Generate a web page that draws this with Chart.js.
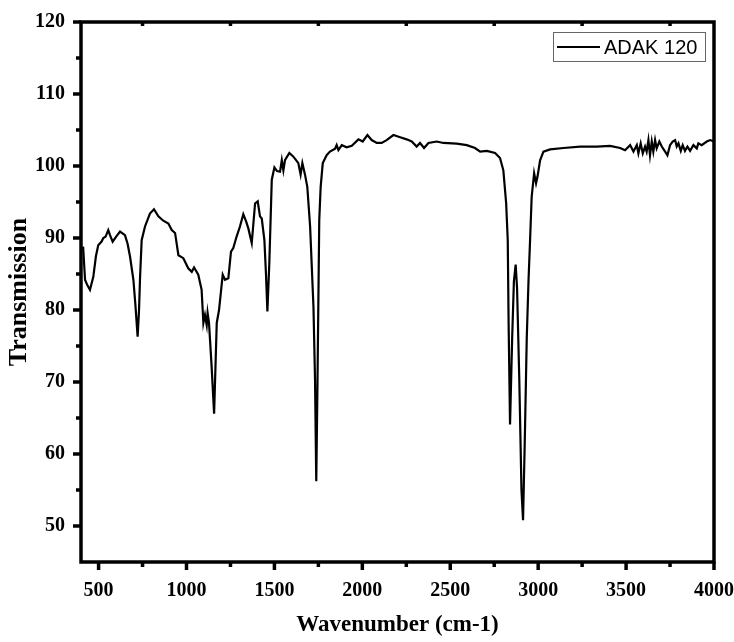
<!DOCTYPE html>
<html>
<head>
<meta charset="utf-8">
<title>ADAK 120</title>
<script src="https://cdn.jsdelivr.net/npm/chart.js@4/dist/chart.umd.min.js"></script>
<style>
  body { margin: 0; background: #fff; }
  canvas { display: block; }
</style>
</head>
<body>
<canvas id="myChart" width="734" height="642"></canvas>
<script>
const seriesLabel = "ADAK 120";

// wavenumber (cm-1) and transmission
const wavenumbers = [
  412, 423, 435, 451, 470, 485, 498, 517, 527, 540, 555, 565, 580, 600, 622, 650, 665, 679, 698, 710,
  722, 730, 736, 745, 764, 792, 815, 840, 868, 897, 916, 935, 954, 982, 1010, 1030, 1043, 1067, 1086, 1096,
  1105, 1115, 1120, 1128, 1143, 1157, 1172, 1185, 1206, 1219, 1238, 1253, 1266, 1285, 1304, 1323, 1339, 1352, 1371, 1376,
  1390, 1405, 1418, 1428, 1443, 1452, 1460, 1471, 1485, 1500, 1515, 1532, 1542, 1551, 1560, 1585, 1608, 1636, 1649, 1659,
  1674, 1687, 1703, 1722, 1731, 1738, 1745, 1755, 1763, 1775, 1797, 1816, 1845, 1854, 1864, 1883, 1911, 1940, 1978, 2002,
  2029, 2053, 2082, 2110, 2138, 2177, 2215, 2252, 2281, 2309, 2328, 2351, 2376, 2423, 2461, 2537, 2594, 2641, 2670, 2708,
  2755, 2783, 2802, 2818, 2827, 2832, 2840, 2852, 2862, 2872, 2880, 2893, 2905, 2914, 2924, 2935, 2945, 2954, 2963, 2977,
  2988, 2996, 3011, 3030, 3068, 3144, 3238, 3333, 3409, 3466, 3494, 3523, 3542, 3561, 3570, 3583, 3595, 3608, 3617, 3627,
  3636, 3646, 3655, 3665, 3674, 3689, 3703, 3722, 3735, 3750, 3765, 3779, 3788, 3798, 3811, 3822, 3835, 3849, 3864, 3883,
  3902, 3911, 3930, 3959, 3978, 4000
];
const transmission = [
  88.8, 84.2, 83.5, 82.8, 84.6, 87.5, 89.0, 89.5, 90.0, 90.2, 91.1, 90.4, 89.5, 90.2, 90.9, 90.4, 89.2, 87.4, 84.2, 80.5,
  76.3, 80.0, 84.6, 89.7, 91.6, 93.4, 94.0, 93.0, 92.4, 92.0, 91.1, 90.7, 87.6, 87.2, 85.8, 85.3, 85.9, 84.9, 82.8, 78.2,
  79.3, 77.9, 79.6, 78.2, 72.1, 65.6, 78.2, 80.0, 84.9, 84.2, 84.4, 88.1, 88.6, 90.2, 91.6, 93.3, 92.3, 91.3, 89.3, 90.7,
  94.8, 95.1, 93.0, 92.7, 89.7, 85.0, 79.8, 86.5, 98.1, 99.8, 99.3, 99.2, 100.8, 99.4, 100.8, 101.8, 101.3, 100.4, 98.8, 100.4,
  98.8, 97.1, 91.6, 80.5, 70.3, 56.2, 70.0, 92.5, 97.1, 100.4, 101.5, 102.0, 102.4, 102.9, 102.2, 102.9, 102.6, 102.8, 103.7, 103.4,
  104.3, 103.6, 103.2, 103.2, 103.6, 104.3, 104.0, 103.7, 103.4, 102.7, 103.2, 102.5, 103.2, 103.4, 103.2, 103.1, 102.9, 102.5, 102.0, 102.1,
  101.8, 101.1, 99.4, 94.8, 89.7, 78.0, 64.1, 76.0, 84.0, 86.3, 83.0, 70.0, 55.0, 50.8, 62.0, 76.0, 84.0, 89.7, 95.7, 99.0,
  97.6, 98.5, 100.8, 102.0, 102.3, 102.5, 102.7, 102.7, 102.8, 102.5, 102.2, 102.9, 102.0, 102.9, 101.75, 103.15, 101.75, 102.7, 102.0, 103.6,
  101.5, 103.4, 102.0, 103.6, 102.45, 103.4, 102.7, 102.0, 101.5, 102.9, 103.4, 103.6, 102.7, 103.15, 102.1, 102.9, 102.1, 102.7, 102.1, 102.9,
  102.45, 103.15, 102.9, 103.4, 103.6, 103.4
];

const xTicks = [500, 1000, 1500, 2000, 2500, 3000, 3500, 4000];
const xMinorTicks = [750, 1250, 1750, 2250, 2750, 3250, 3750];
const yTicks = [50, 60, 70, 80, 90, 100, 110, 120];
const yMinorTicks = [55, 65, 75, 85, 95, 105, 115];

const tickFont = { family: "'Liberation Serif', 'Times New Roman', serif", size: 20, weight: "bold" };
const titleFont = { family: "'Liberation Serif', 'Times New Roman', serif", size: 23, weight: "bold" };

// thick box round the plot, with outward ticks, plus the boxed legend
const framePlugin = {
  id: "frame",
  afterDatasetsDraw(chart) {
    const { ctx, chartArea: a, scales } = chart;
    const x = scales.x;
    const y = scales.y;
    const line = (x1, y1, x2, y2) => {
      ctx.beginPath();
      ctx.moveTo(x1, y1);
      ctx.lineTo(x2, y2);
      ctx.stroke();
    };
    ctx.save();
    ctx.strokeStyle = "#000";
    ctx.lineWidth = 3.5;
    ctx.strokeRect(a.left, a.top, a.right - a.left, a.bottom - a.top);
    xTicks.forEach((v) => {
      const px = x.getPixelForValue(v);
      line(px, a.bottom, px, a.bottom + 8);
    });
    xMinorTicks.forEach((v) => {
      const px = x.getPixelForValue(v);
      line(px, a.bottom, px, a.bottom + 5);
      line(px, a.top, px, a.top + 4);
    });
    yTicks.forEach((v) => {
      const py = y.getPixelForValue(v);
      line(a.left - 8, py, a.left, py);
    });
    yMinorTicks.forEach((v) => {
      const py = y.getPixelForValue(v);
      line(a.left - 5, py, a.left, py);
    });

    // legend
    const ds = chart.data.datasets[0];
    ctx.lineWidth = 1;
    ctx.strokeStyle = "#666";
    ctx.strokeRect(553.5, 32.5, 152, 29);
    ctx.strokeStyle = ds.borderColor;
    ctx.lineWidth = 2;
    line(557, 47, 600, 47);
    ctx.fillStyle = "#000";
    ctx.font = "20px 'Liberation Sans', Arial, sans-serif";
    ctx.textBaseline = "middle";
    ctx.textAlign = "left";
    ctx.fillText(ds.label, 604, 48);
    ctx.restore();
  },
};

const chartData = {
  datasets: [
    {
      label: seriesLabel,
      data: wavenumbers.map((w, i) => ({ x: w, y: transmission[i] })),
      borderColor: "#000",
      borderWidth: 2.2,
      pointRadius: 0,
      tension: 0,
      fill: false,
    },
  ],
};

const config = {
  type: "line",
  data: chartData,
  options: {
    responsive: false,
    animation: false,
    layout: { padding: { top: 22, right: 20, left: 0, bottom: 0 } },
    plugins: {
      legend: { display: false },
      tooltip: { enabled: false },
    },
    scales: {
      x: {
        type: "linear",
        min: 400,
        max: 4000,
        afterBuildTicks: (axis) => {
          axis.ticks = xTicks.map((v) => ({ value: v }));
        },
        afterFit: (axis) => {
          axis.height = 80;
          axis.paddingLeft = 0;
          axis.paddingRight = 0;
        },
        grid: { display: false, drawTicks: false },
        border: { display: false },
        ticks: {
          autoSkip: false,
          maxRotation: 0,
          padding: 17,
          color: "#000",
          font: tickFont,
          callback: (value) => String(value),
        },
        title: {
          display: true,
          text: "Wavenumber (cm-1)",
          color: "#000",
          font: titleFont,
          padding: { top: 0, bottom: 3 },
        },
      },
      y: {
        type: "linear",
        min: 45,
        max: 120,
        afterBuildTicks: (axis) => {
          axis.ticks = yTicks.map((v) => ({ value: v }));
        },
        afterFit: (axis) => {
          axis.width = 81;
          axis.paddingTop = 0;
          axis.paddingBottom = 0;
        },
        grid: { display: false, drawTicks: false },
        border: { display: false },
        ticks: {
          autoSkip: false,
          padding: 16,
          color: "#000",
          font: tickFont,
          callback: (value) => String(value),
        },
        title: {
          display: true,
          text: "Transmission",
          color: "#000",
          font: { ...titleFont, size: 26 },
          padding: { top: 4, bottom: 0 },
        },
      },
    },
  },
  plugins: [framePlugin],
};

const ctx = document.getElementById("myChart").getContext("2d");
const myChart = new Chart(ctx, config);
</script>
</body>
</html>
